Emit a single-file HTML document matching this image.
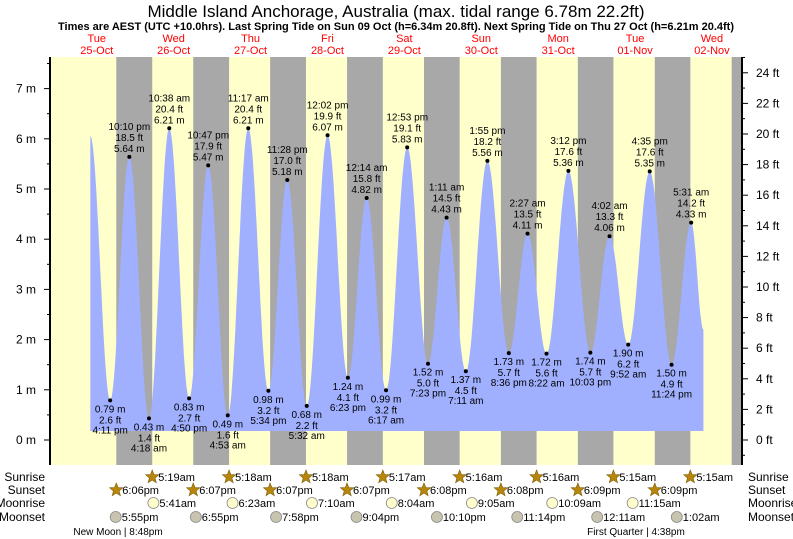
<!DOCTYPE html>
<html><head><meta charset="utf-8"><style>
body{margin:0;background:#fff}
svg{display:block;font-family:"Liberation Sans",sans-serif}
</style></head><body>
<svg id="chart" width="793" height="539" viewBox="0 0 793 539" xmlns="http://www.w3.org/2000/svg">
<text x="396" y="17" text-anchor="middle" font-size="17">Middle Island Anchorage, Australia (max. tidal range 6.78m 22.2ft)</text>
<text x="396" y="30" text-anchor="middle" font-size="11" font-weight="bold">Times are AEST (UTC +10.0hrs). Last Spring Tide on Sun 09 Oct (h=6.34m 20.8ft). Next Spring Tide on Thu 27 Oct (h=6.21m 20.4ft)</text>
<g id="bands"></g>
<g id="tide"></g>
<g id="axes"></g>
<g id="labels"></g>
<g id="events"></g>
</svg>
<script>
// ---- data ----
const dayNames = ["Tue","Wed","Thu","Fri","Sat","Sun","Mon","Tue","Wed"];
const dayDates = ["25-Oct","26-Oct","27-Oct","28-Oct","29-Oct","30-Oct","31-Oct","01-Nov","02-Nov"];
const tideDay  = [0,0,0,1,1,1,1,2,2,2,2,3,3,3,4,4,4,4,5,5,5,5,6,6,6,6,7,7,7,7,8,8];
const tideTime = ["10:00","16:11","22:10","04:18","10:38","16:50","22:47","04:53","11:17","17:34","23:28","05:32","12:02","18:23","00:14","06:17","12:53","19:23","01:11","07:11","13:55","20:36","02:27","08:22","15:12","22:03","04:02","09:52","16:35","23:24","05:31","09:20"];
const tideM    = [6.05,0.79,5.64,0.43,6.21,0.83,5.47,0.49,6.21,0.98,5.18,0.68,6.07,1.24,4.82,0.99,5.83,1.52,4.43,1.37,5.56,1.73,4.11,1.72,5.36,1.74,4.06,1.90,5.35,1.50,4.33,2.20];
const tideFt   = ["","2.6","18.5","1.4","20.4","2.7","17.9","1.6","20.4","3.2","17.0","2.2","19.9","4.1","15.8","3.2","19.1","5.0","14.5","4.5","18.2","5.7","13.5","5.6","17.6","5.7","13.3","6.2","17.6","4.9","14.2",""];
const tideLbl  = ["","4:11 pm","10:10 pm","4:18 am","10:38 am","4:50 pm","10:47 pm","4:53 am","11:17 am","5:34 pm","11:28 pm","5:32 am","12:02 pm","6:23 pm","12:14 am","6:17 am","12:53 pm","7:23 pm","1:11 am","7:11 am","1:55 pm","8:36 pm","2:27 am","8:22 am","3:12 pm","10:03 pm","4:02 am","9:52 am","4:35 pm","11:24 pm","5:31 am",""];
const sunriseDay = [1,2,3,4,5,6,7,8];
const sunriseTime = ["5:19am","5:18am","5:18am","5:17am","5:16am","5:16am","5:15am","5:15am"];
const sunsetDay = [0,1,2,3,4,5,6,7,8];
const sunsetTime = ["6:06pm","6:07pm","6:07pm","6:07pm","6:08pm","6:08pm","6:09pm","6:09pm","6:09pm"];
const moonriseDay = [1,2,3,4,5,6,7];
const moonriseTime = ["5:41am","6:23am","7:10am","8:04am","9:05am","10:09am","11:15am"];
const moonsetDay = [0,1,2,3,4,5,7,8];
const moonsetTime = ["5:55pm","6:55pm","7:58pm","9:04pm","10:10pm","11:14pm","12:11am","1:02am"];
const leftTicks = [0,1,2,3,4,5,6,7];
const rightTicks = [0,2,4,6,8,10,12,14,16,18,20,22,24];

// ---- scales ----
const NS="http://www.w3.org/2000/svg";
const X0=58.3, PPD=76.9, PL=50, PR=742, PT=57, PB=465, BASE=431;
const xT=(d,h)=>X0+d*PPD+h/24*PPD;
const yM=m=>440-50.2*m;
const yF=f=>440-50.2*f/3.28084;
function hm(s){const a=s.split(":");return +a[0]+(+a[1])/60;}
function ap(s){const m=s.match(/(\d+):(\d+)(am|pm)/);let h=+m[1]%12;if(m[3]=="pm")h+=12;return h+(+m[2])/60;}
function el(tag,attrs,parent,txt){const e=document.createElementNS(NS,tag);for(const k in attrs)e.setAttribute(k,attrs[k]);if(txt!=null)e.textContent=txt;parent.appendChild(e);return e;}

const bands=document.getElementById('bands');
let r=el('rect',{x:PL,y:PT,width:PR-PL,height:PB-PT,fill:'#ffffcc'},bands);


for(let i=0;i<sunsetDay.length;i++){
  const x1=xT(sunsetDay[i],ap(sunsetTime[i]));
  const x2=i<sunriseDay.length?xT(sunriseDay[i],ap(sunriseTime[i])):PR;
  const b=el('rect',{x:x1,y:PT,width:Math.min(x2,PR)-x1,height:PB-PT,fill:'#a8a8a8'},bands);
  
  
}
for(let i=0;i<dayNames.length;i++){
  const x=xT(i,12);
  const t1=el('text',{x:x,y:42,'text-anchor':'middle','font-size':11,fill:'#ff0000'},bands,dayNames[i]);
  
  
  const t2=el('text',{x:x,y:54,'text-anchor':'middle','font-size':11,fill:'#ff0000'},bands,dayDates[i]);
  
  
}
const tide=document.getElementById('tide');
const ts=tideDay.map((d,i)=>d*24+hm(tideTime[i]));
let pts=[];
for(let i=0;i<ts.length-1;i++){
  const n=30;
  for(let k=0;k<n;k++){
    const f=k/n, t=ts[i]+(ts[i+1]-ts[i])*f;
    const v=tideM[i]+(tideM[i+1]-tideM[i])*(1-Math.cos(Math.PI*f))/2;
    pts.push([X0+t/24*PPD,yM(v)]);
  }
}
pts.push([X0+ts[ts.length-1]/24*PPD,yM(tideM[tideM.length-1])]);
let d='M'+pts[0][0].toFixed(1)+','+BASE+' '+pts.map(p=>'L'+p[0].toFixed(1)+','+p[1].toFixed(1)).join(' ')+' L'+pts[pts.length-1][0].toFixed(1)+','+BASE+'Z';
const area=el('path',{d:d,fill:'#a0b0ff'},tide);



const labels=document.getElementById('labels');
for(let i=0;i<ts.length;i++){
  if(!tideLbl[i])continue;
  const x=X0+ts[i]/24*PPD, y=yM(tideM[i]);
  const high=(i>0?tideM[i]>tideM[i-1]:tideM[i]>tideM[i+1]);
  const c=el('circle',{cx:x,cy:y,r:2,fill:'#000'},labels);
  
  
  const lines=high?[tideLbl[i],tideFt[i]+' ft',tideM[i].toFixed(2)+' m']:[tideM[i].toFixed(2)+' m',tideFt[i]+' ft',tideLbl[i]];
  const ys=high?[y-27,y-16,y-5]:[y+12,y+23,y+33];
  for(let k=0;k<3;k++){
    const t=el('text',{x:x,y:ys[k],'text-anchor':'middle','font-size':10,fill:'#000'},labels,lines[k]);
    
    
  }
}
const axes=document.getElementById('axes');
let a1=el('line',{x1:PL,y1:PT,x2:PL,y2:PB,stroke:'#000','stroke-width':2},axes);


let a2=el('line',{x1:PR,y1:PT,x2:PR,y2:PB,stroke:'#000','stroke-width':2},axes);


for(let m=-0.5;m<=7.5;m+=0.5){
  const y=yM(m); if(y<PT||y>PB)continue;
  el('line',{x1:PL-(m%1===0?6:3),y1:y,x2:PL,y2:y,stroke:'#000'},axes);
}
for(const m of leftTicks){
  const t=el('text',{x:36,y:yM(m)+4,'text-anchor':'end','font-size':12},axes,m+' m');
  
  
}
for(let f=-1;f<=25;f++){
  const y=yF(f); if(y<PT||y>PB)continue;
  el('line',{x1:PR,y1:y,x2:PR+(f%2===0?6:3),y2:y,stroke:'#000'},axes);
}
for(const f of rightTicks){
  const t=el('text',{x:756,y:yF(f)+4,'font-size':12},axes,f+' ft');
  
  
}
const ev=document.getElementById('events');
const rows=[["Sunrise",477],["Sunset",490],["Moonrise",503],["Moonset",517]];
for(const [n,y] of rows){
  const a=el('text',{x:45,y:y+4,'text-anchor':'end','font-size':12},ev,n);
  
  
  const b=el('text',{x:748,y:y+4,'font-size':12},ev,n);
  
  
}
function star(x,y){
  let p=[];for(let k=0;k<10;k++){const rr=k%2?3:7,a=-Math.PI/2+k*Math.PI/5;p.push((x+rr*Math.cos(a)).toFixed(1)+','+(y+rr*Math.sin(a)).toFixed(1));}
  return el('polygon',{points:p.join(' '),fill:'#b8860b',stroke:'#7a5a00','stroke-width':0.6},ev);
}
function evRow(days,times,y,kind,maxN){
  const n=Math.min(days.length,maxN);
  for(let i=0;i<n;i++){
    const x=xT(days[i],ap(times[i]));
    let ic;
    if(kind==='sun')ic=star(x,y);
    else ic=el('circle',{cx:x,cy:y,r:5.5,fill:kind==='mr'?'#ffffcc':'#c8c4b0',stroke:'#888','stroke-width':0.8},ev);
    
    
    const t=el('text',{x:x+6,y:y+4,'font-size':11},ev,times[i]);
    
    
  }
}
evRow(sunriseDay,sunriseTime,477,'sun',99);
evRow(sunsetDay,sunsetTime,490,'sun',sunsetDay.length-1);
evRow(moonriseDay,moonriseTime,503,'mr',99);
evRow(moonsetDay,moonsetTime,517,'ms',99);
const p1=el('text',{x:118,y:535,'text-anchor':'middle','font-size':10},ev,'New Moon | 8:48pm');


const p2=el('text',{x:636,y:535,'text-anchor':'middle','font-size':10},ev,'First Quarter | 4:38pm');


</script>
</body></html>
